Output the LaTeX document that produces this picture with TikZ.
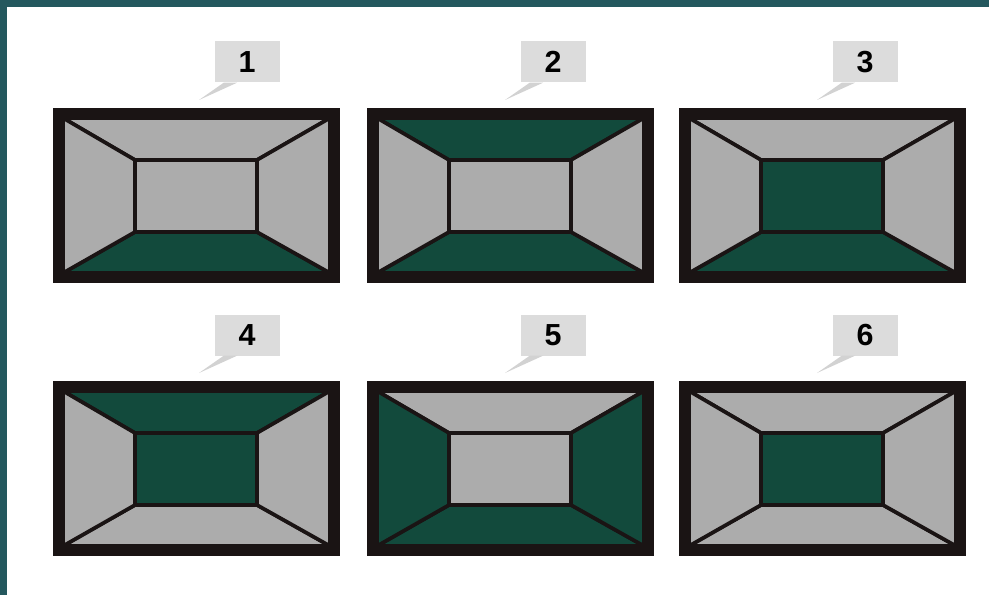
\documentclass[tikz,border=0pt]{standalone}
\usepackage{fontspec}
\setmainfont{Liberation Sans}
\usetikzlibrary{positioning}
\definecolor{frame}{RGB}{36,88,94}
\definecolor{dkgreen}{RGB}{18,74,60}
\definecolor{ltgray}{RGB}{172,172,172}
\definecolor{edge}{RGB}{26,20,20}
\definecolor{tagfill}{RGB}{220,220,220}
\definecolor{tagtail}{RGB}{210,210,210}

\begin{document}
\begin{tikzpicture}[x=0.03cm, y=-0.03cm]
  \tikzstyle{tag}=[rectangle, fill=tagfill, minimum width=1.95cm, minimum height=1.23cm,
                   inner sep=0pt, font=\fontsize{26}{26}\selectfont\bfseries]
  \tikzstyle{tail}=[fill=tagtail]
  \tikzstyle{face}=[draw=edge, line width=0.11cm, line join=miter]
  % background and frame strips
  \fill[white] (0,0) rectangle (989,595);
  \fill[frame] (0,0) rectangle (989,7);
  \fill[frame] (0,0) rectangle (7,595);
  \useasboundingbox (0,0) rectangle (989,595);
  % number/x/y/tag x/top/bottom/left/right/back
  \foreach \n/\px/\py/\tx/\ct/\cb/\cl/\cr/\cc in {
      1/53/108/247/ltgray/dkgreen/ltgray/ltgray/ltgray,
      2/367/108/553/dkgreen/dkgreen/ltgray/ltgray/ltgray,
      3/679/108/865/ltgray/dkgreen/ltgray/ltgray/dkgreen,
      4/53/381/247/dkgreen/ltgray/ltgray/ltgray/dkgreen,
      5/367/381/553/ltgray/dkgreen/dkgreen/dkgreen/ltgray,
      6/679/381/865/ltgray/ltgray/ltgray/ltgray/dkgreen}{
    \begin{scope}[shift={(\px,\py)}]
      \fill[edge] (0,0) rectangle (287,175);
      \filldraw[face, fill=\ct] (10,10) -- (277,10) -- (204,52) -- (82,52) -- cycle;
      \filldraw[face, fill=\cb] (10,165) -- (277,165) -- (204,124) -- (82,124) -- cycle;
      \filldraw[face, fill=\cl] (10,10) -- (82,52) -- (82,124) -- (10,165) -- cycle;
      \filldraw[face, fill=\cr] (277,10) -- (204,52) -- (204,124) -- (277,165) -- cycle;
      \filldraw[face, fill=\cc] (82,52) rectangle (204,124);
    \end{scope}
    \node[tag] (tag\n) at (\tx,\py-46) {\n};
    \coordinate (tip\n) at (\tx-48,\py-8);
    \fill[tail] ([xshift=-0.7cm]tag\n.south) -- ([xshift=-0.3cm]tag\n.south) -- (tip\n) -- cycle;
  }
\end{tikzpicture}
\end{document}
